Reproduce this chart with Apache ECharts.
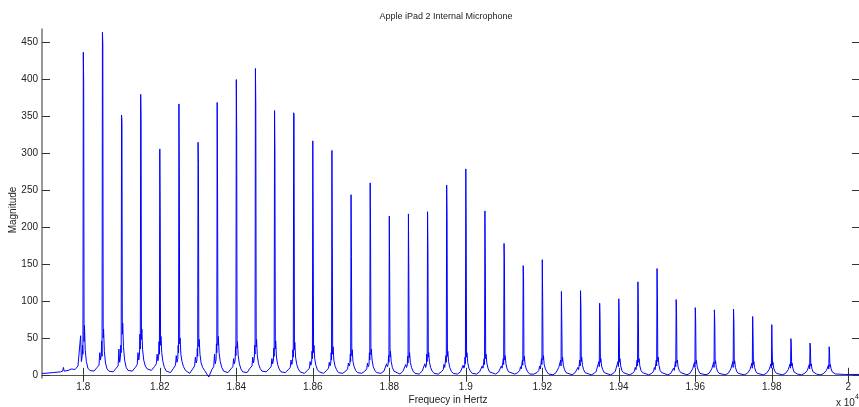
<!DOCTYPE html>
<html>
<head>
<meta charset="utf-8">
<script src="https://cdn.jsdelivr.net/npm/echarts@6/dist/echarts.min.js"></script>
<style>
  html, body { margin: 0; padding: 0; background: #fff; }
  #chart { width: 859px; height: 407px; }
</style>
</head>
<body>
<div id="chart"></div>
<script>
// peak centres (Hz), one every 50 Hz
const peakFreqs = [18000, 18050, 18100, 18150, 18200, 18250, 18300, 18350, 18400, 18450,
  18500, 18550, 18600, 18650, 18700, 18750, 18800, 18850, 18900, 18950,
  19000, 19050, 19100, 19150, 19200, 19250, 19300, 19350, 19400, 19450,
  19500, 19550, 19600, 19650, 19700, 19750, 19800, 19850, 19900, 19950];

// sample offsets (Hz) around each peak
const offsetsHz = [-22, -14, -9, -7, -5, -3, -2, -1, 0, 1, 2, 3, 5, 8, 12, 17];

// magnitudes, one row per peak, one value per offset
const peakMags = [
  [7, 12, 14, 53, 18, 25, 40, 28, 437, 397, 45, 67, 34, 18, 9, 6],
  [5, 10, 13, 30, 20, 28, 46, 25, 464, 448, 50, 62, 32, 16, 8, 5],
  [4, 9, 12, 35, 17, 24, 40, 30, 352, 343, 55, 70, 38, 20, 10, 6],
  [5, 10, 14, 30, 20, 28, 55, 35, 380, 347, 48, 62, 34, 20, 12, 8],
  [6, 11, 15, 28, 19, 25, 45, 28, 306, 215, 40, 52, 30, 18, 10, 5],
  [3, 9, 13, 26, 17, 22, 40, 30, 367, 268, 42, 50, 28, 18, 11, 6],
  [2, 8, 12, 24, 16, 20, 36, 25, 315, 285, 38, 48, 28, 16, 10, 6],
  [-3, 7, 11, 28, 15, 20, 42, 30, 369, 242, 40, 52, 30, 18, 10, 5],
  [3, 8, 11, 22, 15, 20, 38, 26, 400, 327, 36, 45, 26, 15, 8, 4],
  [3, 9, 12, 24, 16, 22, 40, 28, 415, 365, 38, 48, 26, 15, 9, 5],
  [4, 8, 11, 22, 15, 20, 36, 25, 358, 300, 35, 46, 24, 14, 8, 4],
  [3, 7, 10, 20, 14, 18, 34, 24, 355, 351, 34, 44, 24, 14, 8, 4],
  [2, 6, 9, 18, 13, 17, 32, 22, 317, 200, 30, 40, 22, 13, 7, 4],
  [2, 6, 9, 17, 12, 16, 30, 20, 304, 180, 28, 38, 20, 12, 7, 3],
  [2, 5, 8, 16, 12, 15, 28, 18, 244, 160, 26, 34, 18, 11, 6, 3],
  [2, 5, 8, 16, 11, 14, 30, 20, 260, 190, 27, 35, 20, 11, 6, 3],
  [2, 5, 7, 15, 11, 14, 26, 17, 215, 135, 24, 32, 18, 10, 5, 3],
  [1, 5, 7, 14, 10, 13, 25, 16, 218, 140, 23, 30, 17, 10, 5, 2],
  [1, 5, 7, 15, 10, 13, 28, 18, 221, 170, 24, 30, 17, 10, 5, 2],
  [1, 4, 7, 14, 10, 12, 26, 17, 257, 213, 25, 32, 18, 10, 5, 2],
  [1, 4, 6, 13, 9, 12, 24, 15, 279, 200, 24, 30, 17, 9, 5, 2],
  [1, 4, 6, 12, 9, 11, 22, 14, 222, 152, 22, 28, 16, 9, 4, 2],
  [1, 4, 6, 12, 9, 11, 22, 14, 178, 155, 20, 26, 15, 8, 4, 2],
  [1, 3, 6, 11, 8, 10, 20, 13, 148, 133, 19, 25, 14, 8, 4, 1],
  [1, 3, 6, 12, 8, 10, 22, 14, 156, 100, 20, 26, 14, 8, 4, 1],
  [0, 3, 5, 10, 8, 10, 20, 12, 113, 70, 18, 24, 13, 7, 3, 1],
  [0, 3, 5, 10, 7, 9, 20, 12, 114, 90, 18, 24, 13, 7, 3, 1],
  [0, 2, 5, 9, 7, 9, 18, 11, 97, 75, 17, 22, 12, 7, 3, 1],
  [0, 2, 5, 9, 7, 9, 18, 11, 103, 80, 17, 22, 12, 6, 3, 1],
  [0, 2, 5, 10, 7, 9, 20, 12, 126, 97, 17, 22, 12, 6, 3, 1],
  [0, 2, 5, 10, 7, 9, 20, 12, 144, 105, 18, 24, 13, 6, 3, 1],
  [0, 2, 4, 9, 6, 8, 18, 11, 102, 84, 16, 20, 11, 6, 3, 1],
  [0, 2, 4, 8, 6, 8, 17, 10, 91, 72, 15, 20, 11, 6, 2, 1],
  [0, 2, 4, 8, 6, 8, 17, 10, 88, 68, 15, 19, 10, 5, 2, 1],
  [0, 2, 4, 8, 6, 8, 18, 10, 89, 70, 15, 19, 10, 5, 2, 1],
  [0, 2, 4, 7, 5, 7, 16, 9, 79, 53, 14, 18, 10, 5, 2, 1],
  [0, 2, 4, 7, 5, 7, 15, 9, 68, 35, 13, 17, 9, 5, 2, 1],
  [0, 2, 3, 7, 5, 7, 15, 9, 49, 40, 12, 16, 9, 4, 2, 1],
  [0, 2, 3, 6, 5, 7, 14, 8, 43, 35, 12, 15, 8, 4, 2, 1],
  [0, 2, 3, 6, 4, 6, 13, 8, 38, 30, 11, 14, 8, 4, 2, 1]
];

// low-level stretch before the first peak and after the last one
const headFreqs = [17892, 17900, 17920, 17940, 17946, 17948, 17950, 17960, 17970];
const headMags = [2, 2, 3, 4, 5, 10, 5, 6, 8];
const tailFreqs = [19975, 19990, 20000, 20010, 20030];
const tailMags = [1, 0.5, 0.5, 0.5, 0.5];

const xTickValues = [18000, 18200, 18400, 18600, 18800, 19000, 19200, 19400, 19600, 19800, 20000];
const xTickLabels = ['1.8', '1.82', '1.84', '1.86', '1.88', '1.9', '1.92', '1.94', '1.96', '1.98', '2'];
const yTickValues = [0, 50, 100, 150, 200, 250, 300, 350, 400, 450];

const points = [];
headFreqs.forEach((f, i) => points.push([f, headMags[i]]));
peakFreqs.forEach((f0, k) => {
  offsetsHz.forEach((d, j) => points.push([f0 + d, peakMags[k][j]]));
});
tailFreqs.forEach((f, i) => points.push([f, tailMags[i]]));

const font = 'Liberation Sans';
const xMin = 17892, xMax = 20028, yMin = -4.3, yMax = 468.5;

const chart = echarts.init(document.getElementById('chart'));
chart.setOption({
  animation: false,
  backgroundColor: '#fff',
  grid: { left: 42, right: 0, top: 29, bottom: 29, containLabel: false, outerBoundsMode: 'none' },
  xAxis: [{
    type: 'value', min: xMin, max: xMax,
    axisLine: { lineStyle: { color: '#555', width: 1 } },
    axisTick: { inside: true, length: 7, customValues: xTickValues, lineStyle: { color: '#333' } },
    axisLabel: {
      customValues: xTickValues, margin: 4,
      formatter: v => xTickLabels[xTickValues.indexOf(v)],
      fontFamily: font, fontSize: 10, color: '#222'
    },
    splitLine: { show: false }
  }, {
    type: 'value', min: xMin, max: xMax, position: 'top',
    axisLine: { lineStyle: { color: '#555', width: 1 } },
    axisTick: { inside: true, length: 7, customValues: xTickValues, lineStyle: { color: '#333' } },
    axisLabel: { show: false },
    splitLine: { show: false }
  }],
  yAxis: [{
    type: 'value', min: yMin, max: yMax,
    axisLine: { show: true, lineStyle: { color: '#777', width: 1.5 } },
    axisTick: { show: true, inside: true, length: 8, customValues: yTickValues, lineStyle: { color: '#333' } },
    axisLabel: { customValues: yTickValues, margin: 4, fontFamily: font, fontSize: 10, color: '#222' },
    splitLine: { show: false }
  }, {
    type: 'value', min: yMin, max: yMax, position: 'right',
    axisLine: { show: true, lineStyle: { color: '#555', width: 1 } },
    axisTick: { show: true, inside: true, length: 7, customValues: yTickValues, lineStyle: { color: '#333' } },
    axisLabel: { show: false },
    splitLine: { show: false }
  }],
  graphic: [
    { type: 'text', x: 446, y: 17, style: { text: 'Apple iPad 2 Internal Microphone', fontFamily: font, fontSize: 9, fill: '#222', align: 'center', verticalAlign: 'middle' } },
    { type: 'text', x: 448, y: 400, style: { text: 'Frequecy in Hertz', fontFamily: font, fontSize: 10, fill: '#222', align: 'center', verticalAlign: 'middle' } },
    { type: 'text', x: 13, y: 210, rotation: Math.PI / 2, style: { text: 'Magnitude', fontFamily: font, fontSize: 10, fill: '#222', align: 'center', verticalAlign: 'middle' } },
    { type: 'text', x: 836, y: 403, style: { text: 'x 10', fontFamily: font, fontSize: 10, fill: '#222', verticalAlign: 'middle' } },
    { type: 'text', x: 855, y: 397, style: { text: '4', fontFamily: font, fontSize: 7, fill: '#222', verticalAlign: 'middle' } }
  ],
  series: [{
    type: 'line',
    xAxisIndex: 0, yAxisIndex: 0,
    data: points,
    showSymbol: false,
    sampling: null,
    lineStyle: { color: '#0000ff', width: 1 },
    itemStyle: { color: '#0000ff' }
  }]
});
</script>
</body>
</html>
